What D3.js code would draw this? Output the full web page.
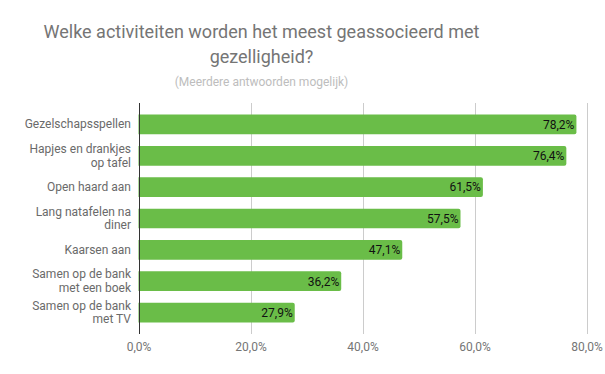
<!DOCTYPE html>
<html>
<head>
<meta charset="utf-8">
<script src="https://cdn.jsdelivr.net/npm/d3@7"></script>
<style>
  body { margin: 0; background: #fff; }
  svg { display: block; font-family: Roboto, sans-serif; }
</style>
</head>
<body>
<svg id="chart" width="605" height="374"></svg>
<script>
// data
var categories = [
    "Gezelschapsspellen",
    "Hapjes en drankjes op tafel",
    "Open haard aan",
    "Lang natafelen na diner",
    "Kaarsen aan",
    "Samen op de bank met een boek",
    "Samen op de bank met TV"
];
var values = [78.2, 76.4, 61.5, 57.5, 47.1, 36.2, 27.9];
var tickValues = [0, 20, 40, 60, 80];

var titleLines = ["Welke activiteiten worden het meest geassocieerd met", "gezelligheid?"];
var subtitle = "(Meerdere antwoorden mogelijk)";

var barColor = "#6abd48";
var gridColor = "#cccccc";

var svg = d3.select("#chart");
var plotLeft = 138.5, plotRight = 586.5, plotTop = 103, plotBottom = 334;

var x = d3.scaleLinear().domain([0, 80]).range([plotLeft, plotRight]);
var y = d3.scaleBand().domain(categories).range([plotTop, plotBottom])
    .paddingInner(0.37).paddingOuter(0.37);

var fmt = function(v) { return v.toFixed(1).replace(".", ",") + "%"; };

// title
svg.append("g").selectAll("text")
    .data(titleLines)
    .enter().append("text")
    .attr("x", 261.5)
    .attr("y", function(d, i) { return 37.5 + i * 25; })
    .attr("text-anchor", "middle")
    .style("font-size", "18px")
    .style("fill", "#757575")
    .text(function(d) { return d; });

svg.append("text")
    .attr("x", 261.5)
    .attr("y", 86)
    .attr("text-anchor", "middle")
    .style("font-size", "12px")
    .style("fill", "#bdbdbd")
    .text(subtitle);

// gridlines
svg.append("g").selectAll("line")
    .data(tickValues.slice(1))
    .enter().append("line")
    .attr("x1", function(d) { return Math.round(x(d)) + 0.5; })
    .attr("x2", function(d) { return Math.round(x(d)) + 0.5; })
    .attr("y1", plotTop)
    .attr("y2", plotBottom)
    .style("stroke", gridColor)
    .style("stroke-width", 1);

// x axis tick labels
var xAxis = d3.axisBottom(x).tickValues(tickValues).tickSize(0).tickFormat(fmt);
var xg = svg.append("g")
    .attr("transform", "translate(0," + plotBottom + ")")
    .call(xAxis);
xg.select(".domain").remove();
xg.selectAll("text")
    .attr("y", 13)
    .attr("dy", "0.32em")
    .style("font-family", "Roboto, sans-serif")
    .style("font-size", "12px")
    .style("fill", "#757575");

// bars, rounded on the right end only
function barPath(d, i) {
    var x0 = x(0), x1 = x(values[i]), y0 = y(d), h = y.bandwidth(), r = 2;
    return "M" + x0 + "," + y0 +
        "H" + (x1 - r) +
        "Q" + x1 + "," + y0 + " " + x1 + "," + (y0 + r) +
        "V" + (y0 + h - r) +
        "Q" + x1 + "," + (y0 + h) + " " + (x1 - r) + "," + (y0 + h) +
        "H" + x0 + "Z";
}

svg.append("g").selectAll("path")
    .data(categories)
    .enter().append("path")
    .attr("d", barPath)
    .style("fill", barColor);

// value labels
svg.append("g").selectAll("text")
    .data(categories)
    .enter().append("text")
    .attr("x", function(d, i) { return x(values[i]) - 2; })
    .attr("y", function(d) { return y(d) + y.bandwidth() / 2; })
    .attr("dy", "0.36em")
    .attr("text-anchor", "end")
    .style("font-size", "12px")
    .style("fill", "#111")
    .text(function(d, i) { return fmt(values[i]); });

// category labels, wrapped into separate text lines
var labelG = svg.append("g");
var probe = labelG.append("text").style("font-size", "12px");
categories.forEach(function(cat) {
    var words = cat.split(" "), lines = [], line = [];
    words.forEach(function(w) {
        line.push(w);
        probe.text(line.join(" "));
        if (probe.node().getComputedTextLength() > 110 && line.length > 1) {
            line.pop();
            lines.push(line.join(" "));
            line = [w];
        }
    });
    lines.push(line.join(" "));
    var cy = y(cat) + y.bandwidth() / 2 + 4;
    var lh = 13.6;
    lines.forEach(function(l, k) {
        labelG.append("text")
            .attr("x", 131)
            .attr("y", cy + (k - (lines.length - 1) / 2) * lh)
            .attr("text-anchor", "end")
            .style("font-size", "12px")
            .style("fill", "#6a6a6a")
            .text(l);
    });
});
probe.remove();

// axis line at zero
svg.append("line")
    .attr("x1", Math.round(x(0)) + 0.5)
    .attr("x2", Math.round(x(0)) + 0.5)
    .attr("y1", plotTop)
    .attr("y2", plotBottom)
    .style("stroke", "#333333")
    .style("stroke-width", 1);
</script>
</body>
</html>
